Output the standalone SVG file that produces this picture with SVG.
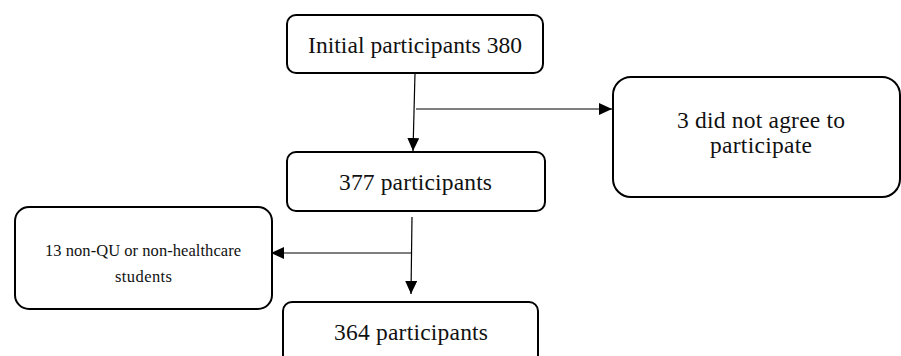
<svg xmlns="http://www.w3.org/2000/svg" width="901" height="356" viewBox="0 0 901 356">
<defs>
<style>
.box{fill:#fff;stroke:#000;stroke-width:2}
.t{font-family:"Liberation Serif","Times New Roman",serif;fill:#111;text-anchor:middle}
.big{font-size:23.5px}
.sm{font-size:16.5px}
.ln{stroke:#000;stroke-width:1.2;fill:none}
</style>
<marker id="ah" viewBox="0 0 13 12" refX="13" refY="6" markerWidth="13" markerHeight="12" markerUnits="userSpaceOnUse" orient="auto">
<path d="M0,0 L13,6 L0,12 Z" fill="#000"/>
</marker>
</defs>
<g id="connectors">
<path class="ln" d="M415,73 L413,151" marker-end="url(#ah)"/>
<path class="ln" d="M416,109 L612,109" marker-end="url(#ah)"/>
<path class="ln" d="M412,217 L411,294" marker-end="url(#ah)"/>
<path class="ln" d="M412,253 L271,253" marker-end="url(#ah)"/>
</g>
<g id="n1">
<rect class="box" x="287" y="15" width="256" height="58" rx="9"/>
<text class="t big" x="415" y="53" textLength="214">Initial participants 380</text>
</g>
<g id="n2">
<rect class="box" x="287" y="152" width="258" height="59" rx="9"/>
<text class="t big" x="415.5" y="190" textLength="153">377 participants</text>
</g>
<g id="n3">
<rect class="box" x="613" y="77" width="287" height="120" rx="18"/>
<text class="t big" x="761" y="128" textLength="168">3 did not agree to</text>
<text class="t big" x="761" y="153" textLength="102">participate</text>
</g>
<g id="n4">
<rect class="box" x="15" y="207" width="257" height="102" rx="14"/>
<text class="t sm" x="143" y="256" textLength="196">13 non-QU or non-healthcare</text>
<text class="t sm" x="143.5" y="282" textLength="57">students</text>
</g>
<g id="n5">
<rect class="box" x="283" y="302" width="255" height="62" rx="9"/>
<text class="t big" x="411" y="340" textLength="154">364 participants</text>
</g>
</svg>
